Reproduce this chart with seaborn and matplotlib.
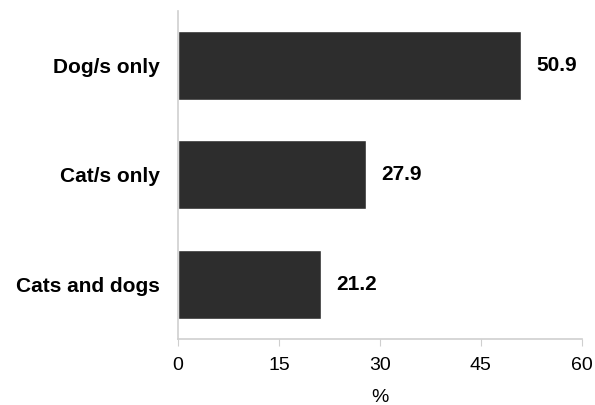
import matplotlib
matplotlib.use("Agg")
import matplotlib.pyplot as plt
import seaborn as sns
import pandas as pd

# data
categories = ["Dog/s only", "Cat/s only", "Cats and dogs"]
values = [50.9, 27.9, 21.2]
x_ticks = [0, 15, 30, 45, 60]

df = pd.DataFrame({"group": categories, "pct": values})

sns.set_style("white")
plt.rcParams['font.family'] = ['Liberation Sans', 'DejaVu Sans']

fig = plt.figure(figsize=(5.95, 4.05), dpi=100)
ax = fig.add_axes([0.299, 0.163, 0.679, 0.811])

sns.barplot(data=df, x="pct", y="group", color="#2d2d2d", saturation=1,
            width=0.633, ax=ax)

# value labels just right of each bar
for i, v in enumerate(values):
    ax.annotate(f"{v:.1f}", xy=(v, i), xytext=(11, 0), textcoords="offset points",
                va="center", ha="left", fontsize=15, fontweight="bold", color="black")

ax.set_xlim(0, 60)
ax.set_ylim(2.5, -0.5)
ax.set_xticks(x_ticks)
ax.set_xticklabels([str(t) for t in x_ticks], fontsize=14, color="black")
ax.set_xlabel("%", fontsize=14, color="black", labelpad=11)
ax.set_ylabel("")
for lbl in ax.get_yticklabels():
    lbl.set_fontweight("bold")
    lbl.set_fontsize(15)
    lbl.set_color("black")
ax.tick_params(axis="y", length=0, pad=13)
ax.tick_params(axis="x", length=5, color="#cfcfcf", direction="out", pad=8)
ax.xaxis.set_ticks_position("bottom")

sns.despine(ax=ax, top=True, right=True)
for side in ["left", "bottom"]:
    ax.spines[side].set_color("#cfcfcf")
    ax.spines[side].set_linewidth(1.2)

fig.savefig("out.png", dpi=100)
